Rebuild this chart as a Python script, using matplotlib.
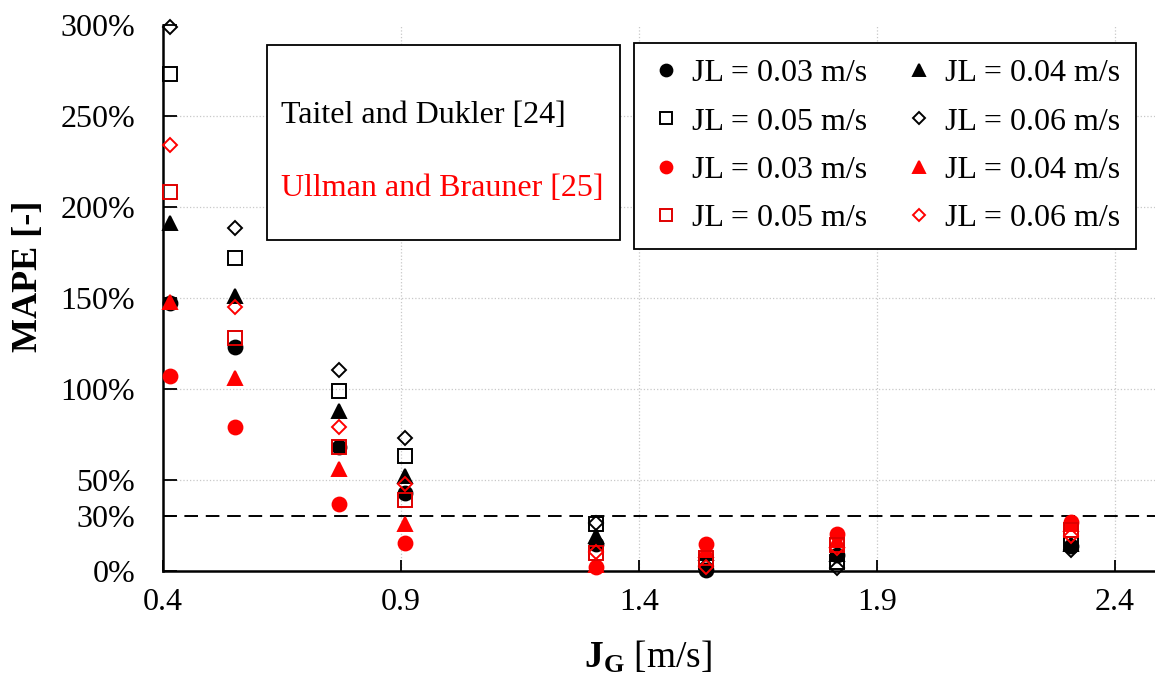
import matplotlib
matplotlib.use('Agg')
import matplotlib.pyplot as plt
from matplotlib.patches import Rectangle

plt.rcParams['font.family'] = 'Liberation Serif'
plt.rcParams['font.size'] = 23
plt.rcParams['mathtext.fontset'] = 'custom'
plt.rcParams['mathtext.rm'] = 'Liberation Serif'
plt.rcParams['mathtext.bf'] = 'Liberation Serif:bold'

# gas superficial velocity JG [m/s]
jg = [0.415, 0.551, 0.770, 0.908, 1.309, 1.540, 1.815, 2.307]

# MAPE [%] - Taitel and Dukler (black)
td_003 = [147, 123, 68, 43, 15, 0.5, 9, 13.5]
td_004 = [191, 151, 88, 52, 19, 10, 9.5, 15]
td_005 = [273, 172, 99, 63, 26, 5, 5, 15]
td_006 = [299, 188.5, 110.5, 73, 26.5, 3, 1.8, 11.5]

# MAPE [%] - Ullman and Brauner (red)
ub_003 = [107, 79, 37, 15.5, 2.4, 15, 20.5, 27]
ub_004 = [148, 106, 56, 26, 3.5, 11.5, 17, 26]
ub_005 = [208, 128, 68, 39, 10, 7, 14.5, 22.5]
ub_006 = [234, 145, 79, 48, 10.5, 2.4, 12.5, 19]

yticks = [0, 30, 50, 100, 150, 200, 250, 300]
xticks = [0.4, 0.9, 1.4, 1.9, 2.4]

fig = plt.figure(figsize=(11.55, 6.77), dpi=100)
ax = fig.add_axes([0.1411, 0.1566, 0.8589, 0.8065])

# grid
for v in [50, 100, 150, 200, 250]:
    ax.axhline(v, color='#c8c8c8', ls=':', lw=0.9, zorder=0)
for v in xticks[1:]:
    ax.axvline(v, color='#c8c8c8', ls=':', lw=0.9, zorder=0)

ax.axhline(30, color='black', ls=(0, (7, 4)), lw=1.4, zorder=1)

def pts(y, marker, color, filled, label, ms):
    h, = ax.plot(jg, y, ls='none', marker=marker, ms=ms,
                 mfc=color if filled else 'none', mec=color, mew=1.4,
                 label=label, clip_on=False, zorder=3)
    return h

h1 = pts(td_003, 'o', 'black', True, 'JL = 0.03 m/s', 10)
h2 = pts(td_004, '^', 'black', True, 'JL = 0.04 m/s', 10)
h3 = pts(td_005, 's', 'black', False, 'JL = 0.05 m/s', 9.5)
h4 = pts(td_006, 'D', 'black', False, 'JL = 0.06 m/s', 7)
h5 = pts(ub_003, 'o', 'red', True, 'JL = 0.03 m/s', 10)
h6 = pts(ub_004, '^', 'red', True, 'JL = 0.04 m/s', 10)
h7 = pts(ub_005, 's', '#e00000', False, 'JL = 0.05 m/s', 9.5)
h8 = pts(ub_006, 'D', 'red', False, 'JL = 0.06 m/s', 7)

ax.set_xlim(0.4, 2.484)
ax.set_ylim(0, 300)
ax.set_xticks(xticks)
ax.set_xticklabels(['0.4', '0.9', '1.4', '1.9', '2.4'])
ax.set_yticks(yticks)
ax.set_yticklabels([f'{v}%' for v in yticks])
ax.tick_params(axis='y', direction='in', length=10, width=1.3, pad=20)
ax.tick_params(axis='x', direction='in', length=8, width=1.3, pad=12)

ax.spines['top'].set_visible(False)
ax.spines['right'].set_visible(False)
ax.spines['left'].set_linewidth(1.8)
ax.spines['bottom'].set_linewidth(1.8)

ax.set_ylabel('MAPE [-]', fontweight='bold', fontsize=26)
ax.yaxis.set_label_coords(-0.119, 0.54)
ax.set_xlabel(r'$\mathbf{J_G}$ [m/s]', fontsize=27)
ax.xaxis.set_label_coords(0.489, -0.125)

# model box
ax.add_patch(Rectangle((0.105, 0.606), 0.356, 0.357, transform=ax.transAxes,
                       fill=True, fc='white', ec='black', lw=1.3, zorder=4))
ax.text(0.119, 0.835, 'Taitel and Dukler [24]', transform=ax.transAxes,
        va='center', ha='left', color='black', zorder=5)
ax.text(0.119, 0.701, 'Ullman and Brauner [25]', transform=ax.transAxes,
        va='center', ha='left', color='red', zorder=5)

order = [h1, h3, h5, h7, h2, h4, h6, h8]
leg = ax.legend(order, [h.get_label() for h in order],
                ncol=2, loc='upper left', bbox_to_anchor=(634 / 1155, 1 - 43 / 677),
                bbox_transform=fig.transFigure, fancybox=False, framealpha=1,
                edgecolor='black', markerscale=0.85, handlelength=1.0,
                handletextpad=0.3, columnspacing=1.15, labelspacing=0.59,
                borderpad=0.5, borderaxespad=0)
leg.get_frame().set_linewidth(1.3)
leg.set_zorder(5)

fig.savefig('out.png', dpi=100)
